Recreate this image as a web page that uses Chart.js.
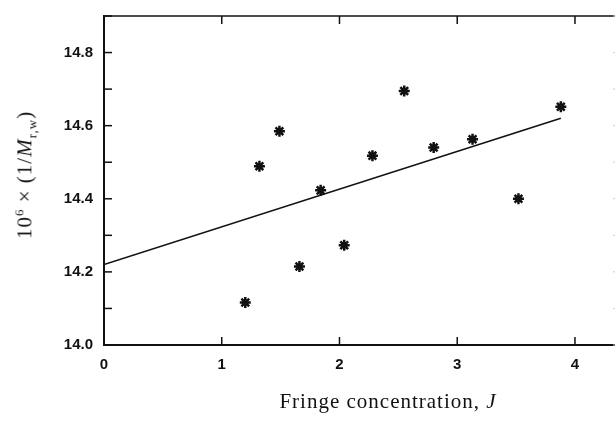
<!DOCTYPE html>
<html>
<head>
<meta charset="utf-8">
<script src="https://cdn.jsdelivr.net/npm/chart.js@4/dist/chart.umd.min.js"></script>
<style>
    body { margin: 0; background: #fff; }
    #wrap { position: relative; width: 615px; height: 421px; }
    .axis-title {
        position: absolute;
        font-family: "Liberation Serif", "DejaVu Serif", serif;
        font-size: 21px;
        color: #111;
        white-space: nowrap;
        letter-spacing: 1px;
        transform: translate(-50%, -50%);
    }
    #yTitle { left: 26px; top: 175px; transform: translate(-50%, -50%) rotate(-90deg); }
    #xTitle { left: 388px; top: 401px; }
    sup, sub { font-size: 13px; }
</style>
</head>
<body>
<div id="wrap">
    <canvas id="fringeChart" width="615" height="421"></canvas>
    <div class="axis-title" id="yTitle">10<sup>6</sup> × (1/<i>M</i><sub>r,w</sub>)</div>
    <div class="axis-title" id="xTitle">Fringe concentration, <i>J</i></div>
</div>
<script>
// 数据
const fringeJ = [1.20, 1.32, 1.49, 1.66, 1.84, 2.04, 2.28, 2.55, 2.80, 3.13, 3.52, 3.88];
const invMw   = [14.116, 14.489, 14.585, 14.215, 14.423, 14.273, 14.518, 14.695, 14.540, 14.563, 14.400, 14.652];

// 拟合直线的两个端点
const fitJ = [0, 3.88];
const fitY = [14.22, 14.62];

// 坐标轴范围
const xMin = 0, xMax = 4.34;
const yMin = 14.0, yMax = 14.9;

// 向内刻度与上边框
const inwardTicks = {
    id: 'inwardTicks',
    afterDraw(chart) {
        const { ctx, chartArea, scales } = chart;
        const len = 8;
        ctx.save();
        ctx.strokeStyle = '#111';
        ctx.lineWidth = 1.5;

        // 上边框
        ctx.beginPath();
        ctx.moveTo(chartArea.left, chartArea.top);
        ctx.lineTo(chartArea.right, chartArea.top);
        ctx.stroke();

        // x 轴刻度（下、上）
        scales.x.ticks.forEach(t => {
            const px = scales.x.getPixelForValue(t.value);
            ctx.beginPath();
            ctx.moveTo(px, chartArea.bottom);
            ctx.lineTo(px, chartArea.bottom - len);
            ctx.moveTo(px, chartArea.top);
            ctx.lineTo(px, chartArea.top + len);
            ctx.stroke();
        });

        // y 轴刻度（左）
        scales.y.ticks.forEach(t => {
            const py = scales.y.getPixelForValue(t.value);
            ctx.beginPath();
            ctx.moveTo(chartArea.left, py);
            ctx.lineTo(chartArea.left + len, py);
            ctx.stroke();
        });

        // 右侧（被裁切）的淡刻度
        ctx.strokeStyle = '#ccc';
        ctx.lineWidth = 1;
        scales.y.ticks.forEach(t => {
            const py = scales.y.getPixelForValue(t.value);
            ctx.beginPath();
            ctx.moveTo(chartArea.right, py);
            ctx.lineTo(chartArea.right - 2, py);
            ctx.stroke();
        });
        ctx.restore();
    }
};

function initializeFringeChart() {
    const ctx = document.getElementById('fringeChart');

    const data = {
        datasets: [{
            type: 'scatter',
            label: 'data',
            data: fringeJ.map((x, i) => ({ x: x, y: invMw[i] })),
            pointStyle: 'star',
            pointRadius: 5.5,
            borderColor: '#111',
            backgroundColor: '#111',
            pointBorderWidth: 2.5
        }, {
            type: 'line',
            label: 'fit',
            data: fitJ.map((x, i) => ({ x: x, y: fitY[i] })),
            borderColor: '#111',
            borderWidth: 1.6,
            pointRadius: 0,
            fill: false
        }]
    };

    const tickFont = { family: '"Liberation Sans", Arial, sans-serif', size: 15, weight: 'bold' };

    new Chart(ctx, {
        type: 'scatter',
        data: data,
        plugins: [inwardTicks],
        options: {
            responsive: false,
            animation: false,
            devicePixelRatio: 1,
            layout: { autoPadding: false, padding: { left: 0, top: 16, right: 0, bottom: 0 } },
            plugins: {
                legend: { display: false },
                tooltip: { enabled: false }
            },
            scales: {
                x: {
                    type: 'linear',
                    min: xMin,
                    max: xMax,
                    afterFit(scale) {
                        scale.height = 76;
                        scale.paddingLeft = 0;
                        scale.paddingRight = 0;
                    },
                    grid: { display: false, drawTicks: false },
                    border: { display: true, color: '#111', width: 2 },
                    ticks: {
                        stepSize: 1,
                        includeBounds: false,
                        padding: 11,
                        color: '#111',
                        font: tickFont,
                        callback: v => String(v)
                    }
                },
                y: {
                    type: 'linear',
                    min: yMin,
                    max: yMax,
                    afterFit(scale) {
                        scale.width = 104;
                        scale.paddingTop = 0;
                        scale.paddingBottom = 0;
                    },
                    grid: { display: false, drawTicks: false },
                    border: { display: true, color: '#111', width: 2 },
                    ticks: {
                        stepSize: 0.1,
                        includeBounds: false,
                        autoSkip: false,
                        padding: 11,
                        color: '#111',
                        font: tickFont,
                        callback: v => (Math.round(v * 10) % 2 === 0 ? v.toFixed(1) : '')
                    }
                }
            }
        }
    });
}

initializeFringeChart();
</script>
</body>
</html>
